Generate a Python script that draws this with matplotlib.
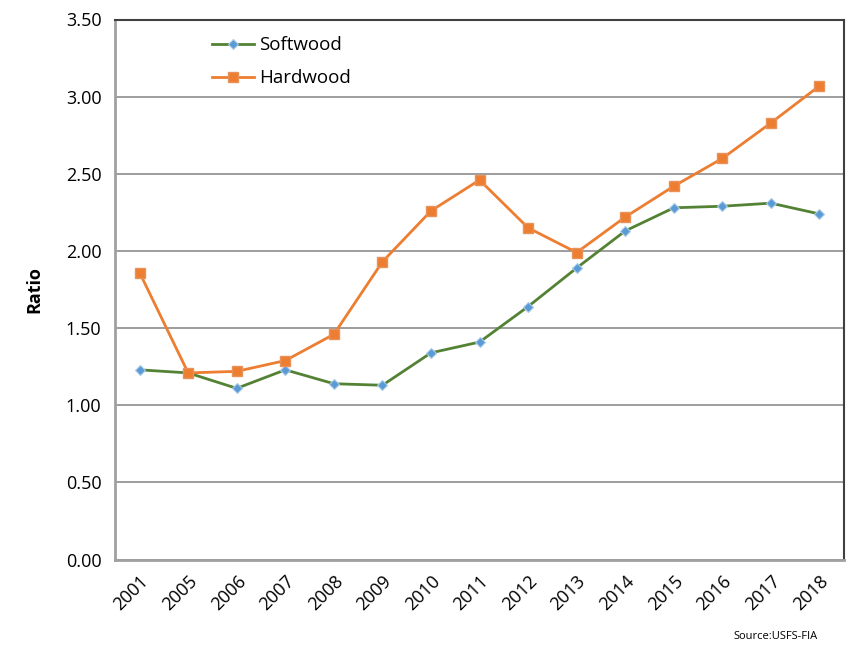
import matplotlib

matplotlib.use("Agg")
import matplotlib.pyplot as plt

plt.rcParams["font.family"] = ["Open Sans", "DejaVu Sans"]

years = ["2001", "2005", "2006", "2007", "2008", "2009", "2010", "2011",
         "2012", "2013", "2014", "2015", "2016", "2017", "2018"]
softwood = [1.23, 1.21, 1.11, 1.23, 1.14, 1.13, 1.34, 1.41,
            1.64, 1.89, 2.13, 2.28, 2.29, 2.31, 2.24]
hardwood = [1.86, 1.21, 1.22, 1.29, 1.46, 1.93, 2.26, 2.46,
            2.15, 1.99, 2.22, 2.42, 2.60, 2.83, 3.07]
yticks = [0.0, 0.5, 1.0, 1.5, 2.0, 2.5, 3.0, 3.5]

fig = plt.figure(figsize=(8.48, 6.5), dpi=100)
ax = fig.add_axes([0.136, 0.139, 0.859, 0.831])

x = list(range(len(years)))
ax.plot(x, softwood, color="#548235", linewidth=2, marker="D", markersize=5,
        markerfacecolor="#5B9BD5", markeredgecolor="#A9CBE8", markeredgewidth=0.8,
        label="Softwood", zorder=3)
ax.plot(x, hardwood, color="#ED7D31", linewidth=2, marker="s", markersize=7,
        markerfacecolor="#ED7D31", markeredgecolor="#E8925A", label="Hardwood", zorder=3)

ax.set_xlim(-0.5, len(years) - 0.5)
ax.set_ylim(0, 3.5)
ax.set_yticks(yticks)
ax.set_yticklabels([f"{v:.2f}" for v in yticks], fontsize=13)
ax.set_xticks(x)
ax.set_xticklabels(years, rotation=45, ha="right", rotation_mode="anchor", fontsize=13)
ax.tick_params(axis="y", length=0, pad=10)
ax.tick_params(axis="x", length=0, pad=9)
ax.yaxis.grid(True, color="#8c8c8c", linewidth=1.2)
ax.set_axisbelow(True)

for side in ["left", "bottom"]:
    ax.spines[side].set_color("#a0a0a0")
    ax.spines[side].set_linewidth(2)
for side in ["top", "right"]:
    ax.spines[side].set_color("#404040")
    ax.spines[side].set_linewidth(1.5)

ax.set_ylabel("Ratio", fontsize=13, fontweight="bold", labelpad=16)

ax.legend(loc="upper left", bbox_to_anchor=(0.11, 1.0), frameon=False, fontsize=13.5,
          handlelength=2.2, labelspacing=0.8, handletextpad=0.3)

fig.text(0.915, 0.012, "Source:USFS-FIA", fontsize=8, ha="center", va="bottom")

fig.savefig("out.png", dpi=100)
